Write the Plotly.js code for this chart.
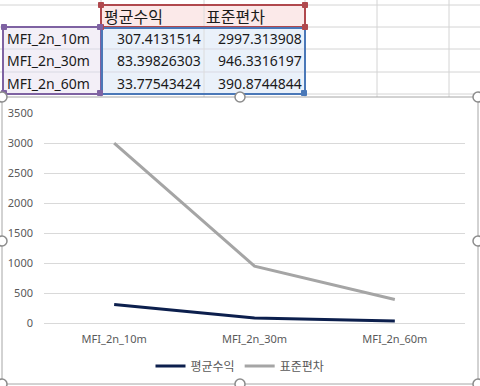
<!DOCTYPE html>
<html>
<head>
<meta charset="utf-8">
<script src="https://cdn.plot.ly/plotly-3.0.1.min.js"></script>
<style>html,body{margin:0;padding:0;background:#fff;}#chart{width:480px;height:386px;}</style>
</head>
<body>
<div id="chart"></div>
<script>
// ---- data ----
var categories = ["MFI_2n_10m", "MFI_2n_30m", "MFI_2n_60m"];
var seriesNames = ["평균수익", "표준편차"];
var meanReturn = [307.4131514, 83.39826303, 33.77543424];
var stdDev = [2997.313908, 946.3316197, 390.8744844];
var meanText = ["307.4131514", "83.39826303", "33.77543424"];
var stdText = ["2997.313908", "946.3316197", "390.8744844"];
var yTicks = [0, 500, 1000, 1500, 2000, 2500, 3000, 3500];

// ---- helpers (pixel -> paper) ----
var W = 480, H = 386;
function px(x){ return x / W; }
function py(y){ return 1 - y / H; }
function rect(x0,y0,x1,y1,fill,lineColor,lineWidth,layer){
  return {type:'rect', xref:'paper', yref:'paper', x0:px(x0), x1:px(x1), y0:py(y1), y1:py(y0),
    fillcolor: fill || 'rgba(0,0,0,0)', line:{color: lineColor || 'rgba(0,0,0,0)', width: lineWidth || 0}, layer: layer || 'above'};
}
function line(x0,y0,x1,y1,color,width,layer){
  return {type:'line', xref:'paper', yref:'paper', x0:px(x0), x1:px(x1), y0:py(y0), y1:py(y1),
    line:{color:color, width:width}, layer: layer || 'below'};
}
function circle(cx,cy,r){
  return {type:'circle', xref:'paper', yref:'paper', x0:px(cx-r), x1:px(cx+r), y0:py(cy+r), y1:py(cy-r),
    fillcolor:'#ffffff', line:{color:'#8c8c8c', width:1.5}, layer:'above'};
}

var shapes = [];
var gridC = '#d4d4d4';
// spreadsheet grid
var rowsY = [5, 27, 49, 72, 94];
var colsX = [101, 204, 305, 377, 449];
rowsY.forEach(function(y){ shapes.push(line(0,y,480,y,gridC,1,'below')); });
colsX.forEach(function(x){ shapes.push(line(x,0,x,97,gridC,1,'below')); });
// table fills
shapes.push(rect(101,5,305,27,'#fbe9e9',null,0,'below'));
shapes.push(rect(3,27,101,94,'#f3eff7',null,0,'below'));
shapes.push(rect(101,27,305,94,'#eaf1fa',null,0,'below'));
// inner cell lines again on top of fills
[49,72].forEach(function(y){ shapes.push(line(3,y,305,y,'#d9d9e3',1,'below')); });
shapes.push(line(204,5,204,94,'#dcdcdc',1,'below'));
// chart area (white) covering grid
shapes.push(rect(2,97,478,384,'#ffffff','#a6a6a6',1,'below'));
// table borders
shapes.push(rect(101,5,305,27,null,'#b0484d',2,'above'));
shapes.push(rect(3,27,101,94,null,'#7e62a2',2,'above'));
shapes.push(rect(102,28,305,94,null,'#4a78b8',2,'above'));
// corner handles
function sq(cx,cy,c){ return rect(cx-2.5,cy-2.5,cx+2.5,cy+2.5,c,c,1,'above'); }
shapes.push(sq(101,5,'#b0484d')); shapes.push(sq(305,5,'#b0484d'));
shapes.push(sq(101,27,'#b0484d')); shapes.push(sq(305,27,'#b0484d'));
shapes.push(sq(4,27,'#7e62a2')); shapes.push(sq(100,27,'#7e62a2'));
shapes.push(sq(4,93,'#7e62a2')); shapes.push(sq(100,93,'#7e62a2'));
shapes.push(sq(304,93,'#4a78b8'));
// chart selection handles
[[2,97],[240,97],[478,97],[2,241],[478,241],[2,384],[240,384],[478,384]].forEach(function(p){
  shapes.push(circle(p[0],p[1],5));
});

// table text
var tf = {family:'Noto Sans, Noto Sans CJK KR, sans-serif', size:14, color:'#1a1a1a'};
var tfk = {family:'Noto Sans CJK KR, Noto Sans, sans-serif', size:16, color:'#1a1a1a'};
var annotations = [];
function ann(text,x,y,anchor,font){
  annotations.push({text:text, xref:'paper', yref:'paper', x:px(x), y:py(y), xanchor:anchor, yanchor:'middle', showarrow:false, font:font});
}
ann(seriesNames[0],102,16,'left',tfk);
ann(seriesNames[1],204,16,'left',tfk);
var rowMid = [38, 60.5, 83];
categories.forEach(function(c,i){
  ann(c,5,rowMid[i],'left',tf);
  ann(meanText[i],203,rowMid[i],'right',tf);
  ann(stdText[i],304,rowMid[i],'right',tf);
});

var lineFont = {family:'Noto Sans, Noto Sans CJK KR, sans-serif', size:11, color:'#595959'};

var traces = [
  {type:'scatter', mode:'lines', name:seriesNames[0], x:categories, y:meanReturn,
   line:{color:'#0c1f4d', width:3}},
  {type:'scatter', mode:'lines', name:seriesNames[1], x:categories, y:stdDev,
   line:{color:'#a5a5a5', width:3}}
];

var layout = {
  width:W, height:H,
  margin:{l:0,r:0,t:0,b:0},
  paper_bgcolor:'#ffffff',
  plot_bgcolor:'rgba(0,0,0,0)',
  showlegend:true,
  xaxis:{domain:[px(44),px(465)], type:'category', range:[-0.5,2.5], showgrid:false, zeroline:false,
    showline:false, tickfont:lineFont, ticks:'', ticklabelstandoff:8, fixedrange:true},
  yaxis:{domain:[py(323),py(113)], range:[0,3500], tickvals:yTicks, ticktext:yTicks.map(String),
    showgrid:true, gridcolor:'#d9d9d9', gridwidth:1, zeroline:true, zerolinecolor:'#d9d9d9', zerolinewidth:1,
    showline:false, tickfont:lineFont, ticks:'', ticklabelstandoff:10, fixedrange:true},
  legend:{orientation:'h', x:0.5, xanchor:'center', y:py(366), yanchor:'middle',
    font:{family:'Noto Sans CJK KR, sans-serif', size:12, color:'#595959'}, bgcolor:'rgba(0,0,0,0)'},
  shapes:shapes,
  annotations:annotations
};

Plotly.newPlot('chart', traces, layout, {displayModeBar:false, staticPlot:true});
</script>
</body>
</html>
